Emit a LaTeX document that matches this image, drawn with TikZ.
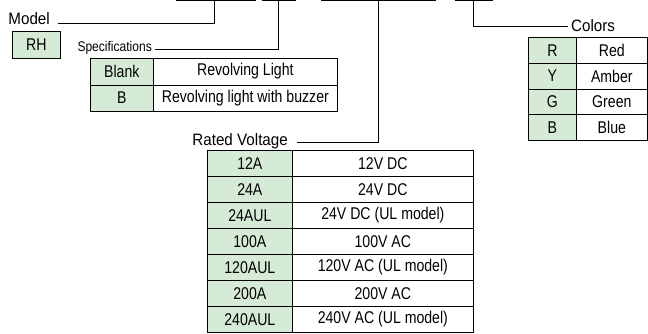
\documentclass[tikz,border=0pt]{standalone}
\usepackage{fontspec}
\setmainfont{Liberation Sans}[FakeStretch=0.83]
\newfontfamily\lblfont{Liberation Sans}[FakeStretch=0.92]
\newfontfamily\specfont{Liberation Sans}[FakeStretch=0.86]
\definecolor{cellgreen}{RGB}{214,235,214}
\begin{document}
\begin{tikzpicture}[x=1pt,y=-1pt,
  cell/.style={draw=black,line width=0.7pt,inner sep=0pt,anchor=north west,font=\fontsize{17}{17}\selectfont},
  keycell/.style={cell,fill=cellgreen},
  lbl/.style={inner sep=0pt,font=\lblfont\fontsize{16.5}{17}\selectfont},
  conn/.style={line width=0.8pt}]
\useasboundingbox (0,0) rectangle (648,333);
% top code bars
\coordinate (b1l) at (176,0.6); \coordinate (b1r) at (256,0.6);
\coordinate (b2l) at (262,0.6); \coordinate (b2r) at (296,0.6);
\coordinate (b3l) at (321,0.6); \coordinate (b3r) at (436,0.6);
\coordinate (b4l) at (455,0.6); \coordinate (b4r) at (493,0.6);
\draw[conn] (b1l) -- (b1r); \draw[conn] (b2l) -- (b2r);
\draw[conn] (b3l) -- (b3r); \draw[conn] (b4l) -- (b4r);
% labels
\node[lbl,anchor=east] (model) at (50,19) {Model};
\node[lbl,anchor=east,font=\specfont\fontsize{14}{14}\selectfont] (spec) at (152,48) {Specifications};
\node[lbl,anchor=east] (rated) at (288,141) {Rated Voltage};
\node[lbl,anchor=west] (colors) at (571,26) {Colors};
% connectors
\coordinate (t1) at (214,0.6); \coordinate (t2) at (278,0.6);
\coordinate (t3) at (378,0.6); \coordinate (t4) at (473,0.6);
\draw[conn] (t1) |- (58,23);
\draw[conn] (t2) |- (155,49);
\draw[conn] (t3) |- (297,142);
\draw[conn] (t4) |- (568,26);
% RH
\node[keycell,minimum width=48pt,minimum height=27pt] (rh) at (12,31) {RH};
% specifications table
\foreach \k/\d [count=\i from 0] in {Blank/Revolving Light,B/Revolving light with buzzer}{
  \node[keycell,minimum width=63pt,minimum height=26.5pt] (sk\i) at (90,58+26.5*\i) {\k};
  \node[cell,minimum width=184pt,minimum height=26.5pt] (sd\i) at (153,58+26.5*\i) {\d};
}
% colors table
\foreach \k/\d [count=\i from 0] in {R/Red,Y/Amber,G/Green,B/Blue}{
  \node[keycell,minimum width=48pt,minimum height=25.75pt] (ck\i) at (528,37+25.75*\i) {\k};
  \node[cell,minimum width=71pt,minimum height=25.75pt] (cd\i) at (576,37+25.75*\i) {\d};
}
% voltage table
\foreach \k/\d [count=\i from 0] in {12A/12V DC,24A/24V DC,24AUL/24V DC (UL model),100A/100V AC,120AUL/120V AC (UL model),200A/200V AC,240AUL/240V AC (UL model)}{
  \node[keycell,minimum width=85pt,minimum height=26pt] (vk\i) at (207,150+26*\i) {\k};
  \node[cell,minimum width=181pt,minimum height=26pt] (vd\i) at (292,150+26*\i) {\d};
}
\end{tikzpicture}
\end{document}
